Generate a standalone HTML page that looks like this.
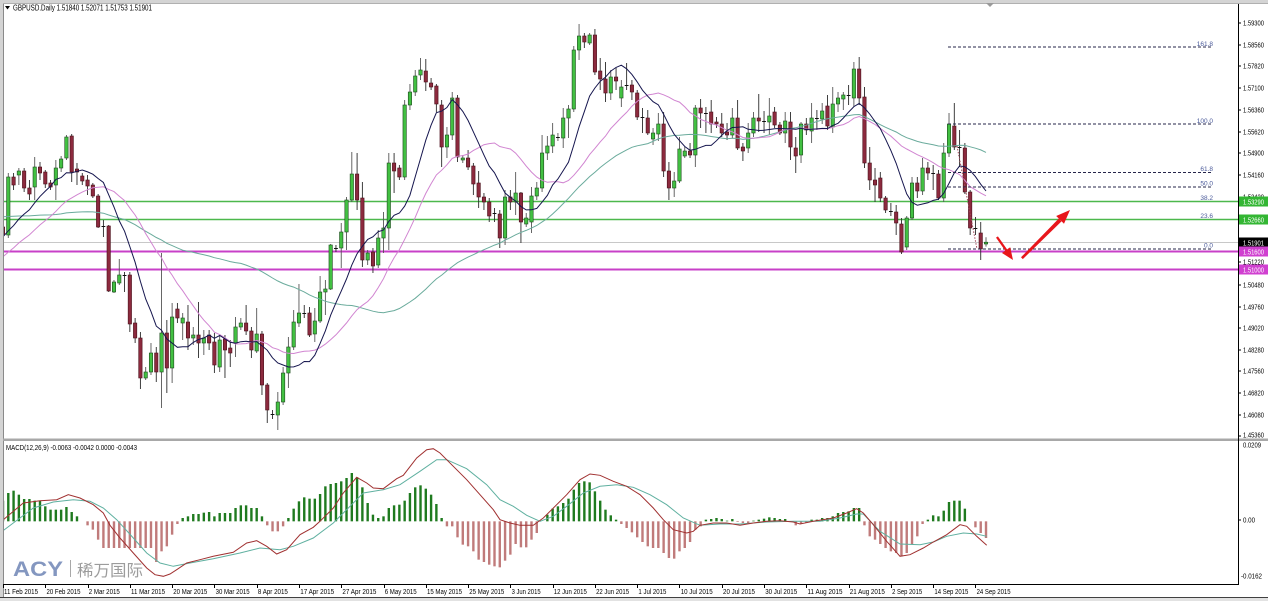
<!DOCTYPE html>
<html><head><meta charset="utf-8">
<style>
html,body{margin:0;padding:0;background:#fff;overflow:hidden;}
svg{display:block;}
text{font-family:"Liberation Sans","Noto Sans CJK SC",sans-serif;}
</style></head>
<body>
<svg id="c" width="1268" height="601" viewBox="0 0 1268 601" xmlns="http://www.w3.org/2000/svg">
<rect width="1268" height="601" fill="#fff"/>
<!-- level lines -->
<line x1="3" y1="201.5" x2="1238" y2="201.5" stroke="#4cb84c" stroke-width="1.5"/>
<line x1="3" y1="219.5" x2="1238" y2="219.5" stroke="#4cb84c" stroke-width="1.5"/>
<line x1="3" y1="242.5" x2="1238" y2="242.5" stroke="#c8c8c8" stroke-width="1"/>
<line x1="3" y1="251.5" x2="1238" y2="251.5" stroke="#c840c8" stroke-width="2"/>
<line x1="3" y1="269.5" x2="1238" y2="269.5" stroke="#c840c8" stroke-width="2"/>
<g id="gC"></g>
<g id="gMA"></g>
<!-- fib -->
<g stroke="#26264a" stroke-width="1" stroke-dasharray="3,2">
<line x1="948" y1="47" x2="1213" y2="47"/>
<line x1="948" y1="124" x2="1213" y2="124"/>
<line x1="948" y1="172.5" x2="1213" y2="172.5"/>
<line x1="948" y1="187" x2="1213" y2="187"/>
<line x1="948" y1="249" x2="1213" y2="249"/>
</g>
<line x1="957" y1="146" x2="977" y2="249" stroke="#a04858" stroke-width="1" stroke-dasharray="1.5,1.5"/>
<g fill="#4a5a9a" font-size="6.5">
<text x="1213" y="46" text-anchor="end">161.8</text>
<text x="1213" y="123" text-anchor="end">100.0</text>
<text x="1213" y="171" text-anchor="end">61.8</text>
<text x="1213" y="185.5" text-anchor="end">50.0</text>
<text x="1213" y="200" text-anchor="end">38.2</text>
<text x="1213" y="218" text-anchor="end">23.6</text>
<text x="1213" y="247.5" text-anchor="end">0.0</text>
</g>
<!-- arrows -->
<g fill="#e8161b" stroke="none">
<polygon points="996,237.6 997.9,236.4 1007.5,250 1005.6,251.3"/>
<polygon points="1013,260 1002,253 1010.2,247.2"/>
<polygon points="1021,257.3 1022.8,259.1 1061.5,221.4 1058.7,218.6"/>
<polygon points="1070,210 1064,223.8 1056.2,216"/>
</g>
<!-- MACD -->
<g id="gH"></g>
<g id="gML"></g>
<!-- watermark -->
<text x="13" y="576" font-size="21" font-weight="bold" fill="#8497c0" textLength="50" lengthAdjust="spacingAndGlyphs">ACY</text>
<line x1="70.5" y1="560" x2="70.5" y2="577" stroke="#a8a8a8" stroke-width="1"/>
<text x="77" y="576" font-size="16" fill="#9c9c9c" font-family="'Liberation Sans','Noto Sans CJK SC',sans-serif" textLength="66" lengthAdjust="spacingAndGlyphs">稀万国际</text>
<!-- frames -->
<rect x="0" y="0" width="1268" height="3" fill="#d4d4d4"/>
<rect x="0" y="0" width="3" height="597" fill="#d4d4d4"/>
<line x1="3.5" y1="3" x2="3.5" y2="597" stroke="#8a8a8a"/>
<line x1="3" y1="3.5" x2="1268" y2="3.5" stroke="#b0b0b0"/>
<polygon points="986,3 994,3 990,7" fill="#9a9a9a"/>
<rect x="3" y="438.5" width="1265" height="2.5" fill="#a8a8a8"/>
<line x1="1238.5" y1="4" x2="1238.5" y2="585" stroke="#000" stroke-width="1"/>
<line x1="3" y1="584.5" x2="1238.5" y2="584.5" stroke="#000" stroke-width="1"/>
<rect x="0" y="597" width="1268" height="4" fill="#e2e2e2"/>
<line x1="0" y1="597.5" x2="1268" y2="597.5" stroke="#404040" stroke-width="1"/>
<!-- header -->
<polygon points="5,6 10,6 7.5,9.5" fill="#000"/>
<text x="13" y="10.5" font-size="8" fill="#000" textLength="139" lengthAdjust="spacingAndGlyphs">GBPUSD.Daily  1.51840 1.52071 1.51753 1.51901</text>
<text x="6" y="450" font-size="7.5" fill="#000" textLength="131" lengthAdjust="spacingAndGlyphs">MACD(12,26,9) -0.0063 -0.0042 0.0000 -0.0043</text>
<!-- price axis -->
<g stroke="#000" stroke-width="1">
<line x1="1238" y1="23" x2="1241" y2="23"/><line x1="1238" y1="45" x2="1241" y2="45"/>
<line x1="1238" y1="66" x2="1241" y2="66"/><line x1="1238" y1="88" x2="1241" y2="88"/>
<line x1="1238" y1="110" x2="1241" y2="110"/><line x1="1238" y1="132" x2="1241" y2="132"/>
<line x1="1238" y1="153" x2="1241" y2="153"/><line x1="1238" y1="175" x2="1241" y2="175"/>
<line x1="1238" y1="197" x2="1241" y2="197"/><line x1="1238" y1="262" x2="1241" y2="262"/>
<line x1="1238" y1="285" x2="1241" y2="285"/><line x1="1238" y1="307" x2="1241" y2="307"/>
<line x1="1238" y1="328" x2="1241" y2="328"/><line x1="1238" y1="350" x2="1241" y2="350"/>
<line x1="1238" y1="371" x2="1241" y2="371"/><line x1="1238" y1="393" x2="1241" y2="393"/>
<line x1="1238" y1="415" x2="1241" y2="415"/><line x1="1238" y1="436" x2="1241" y2="436"/>
<line x1="1238" y1="520" x2="1241" y2="520"/>
</g>
<g font-size="7" fill="#000">
<text x="1243" y="25.5" textLength="21" lengthAdjust="spacingAndGlyphs">1.59300</text>
<text x="1243" y="47.5" textLength="21" lengthAdjust="spacingAndGlyphs">1.58560</text>
<text x="1243" y="68.5" textLength="21" lengthAdjust="spacingAndGlyphs">1.57820</text>
<text x="1243" y="90.5" textLength="21" lengthAdjust="spacingAndGlyphs">1.57100</text>
<text x="1243" y="112.5" textLength="21" lengthAdjust="spacingAndGlyphs">1.56360</text>
<text x="1243" y="134.5" textLength="21" lengthAdjust="spacingAndGlyphs">1.55620</text>
<text x="1243" y="155.5" textLength="21" lengthAdjust="spacingAndGlyphs">1.54900</text>
<text x="1243" y="177.5" textLength="21" lengthAdjust="spacingAndGlyphs">1.54160</text>
<text x="1243" y="199.5" textLength="21" lengthAdjust="spacingAndGlyphs">1.53420</text>
<text x="1243" y="264.5" textLength="21" lengthAdjust="spacingAndGlyphs">1.51220</text>
<text x="1243" y="287.5" textLength="21" lengthAdjust="spacingAndGlyphs">1.50480</text>
<text x="1243" y="309.5" textLength="21" lengthAdjust="spacingAndGlyphs">1.49760</text>
<text x="1243" y="330.5" textLength="21" lengthAdjust="spacingAndGlyphs">1.49020</text>
<text x="1243" y="352.5" textLength="21" lengthAdjust="spacingAndGlyphs">1.48280</text>
<text x="1243" y="373.5" textLength="21" lengthAdjust="spacingAndGlyphs">1.47560</text>
<text x="1243" y="395.5" textLength="21" lengthAdjust="spacingAndGlyphs">1.46820</text>
<text x="1243" y="417.5" textLength="21" lengthAdjust="spacingAndGlyphs">1.46080</text>
<text x="1243" y="437.5" textLength="21" lengthAdjust="spacingAndGlyphs">1.45360</text>
<text x="1243" y="447.5" textLength="18" lengthAdjust="spacingAndGlyphs">0.0209</text>
<text x="1243" y="522.5" textLength="12" lengthAdjust="spacingAndGlyphs">0.00</text>
<text x="1241" y="578.5" textLength="21" lengthAdjust="spacingAndGlyphs">-0.0162</text>
</g>
<!-- price boxes -->
<rect x="1239" y="196.5" width="29" height="10" fill="#33b633"/>
<rect x="1239" y="214.5" width="29" height="10" fill="#33b633"/>
<rect x="1239" y="237.5" width="29" height="10" fill="#000"/>
<rect x="1239" y="246.5" width="29" height="10" fill="#d040d0"/>
<rect x="1239" y="264.5" width="29" height="10" fill="#d040d0"/>
<g font-size="7" fill="#fff">
<text x="1243" y="204.3" textLength="21" lengthAdjust="spacingAndGlyphs">1.53290</text>
<text x="1243" y="222.3" textLength="21" lengthAdjust="spacingAndGlyphs">1.52660</text>
<text x="1243" y="245.3" textLength="21" lengthAdjust="spacingAndGlyphs">1.51901</text>
<text x="1243" y="254.3" textLength="21" lengthAdjust="spacingAndGlyphs">1.51600</text>
<text x="1243" y="272.3" textLength="21" lengthAdjust="spacingAndGlyphs">1.51000</text>
</g>
<!-- date axis -->
<g id="gT" stroke="#000" stroke-width="1"></g>
<g font-size="7" fill="#000">
<text x="4" y="594" textLength="34" lengthAdjust="spacingAndGlyphs">11 Feb 2015</text>
<text x="46.5" y="594" textLength="34" lengthAdjust="spacingAndGlyphs">20 Feb 2015</text>
<text x="88.8" y="594" textLength="31" lengthAdjust="spacingAndGlyphs">2 Mar 2015</text>
<text x="131" y="594" textLength="34" lengthAdjust="spacingAndGlyphs">11 Mar 2015</text>
<text x="173.3" y="594" textLength="34" lengthAdjust="spacingAndGlyphs">20 Mar 2015</text>
<text x="215.6" y="594" textLength="34" lengthAdjust="spacingAndGlyphs">30 Mar 2015</text>
<text x="257.9" y="594" textLength="30" lengthAdjust="spacingAndGlyphs">8 Apr 2015</text>
<text x="300.2" y="594" textLength="34" lengthAdjust="spacingAndGlyphs">17 Apr 2015</text>
<text x="342.4" y="594" textLength="34" lengthAdjust="spacingAndGlyphs">27 Apr 2015</text>
<text x="384.7" y="594" textLength="32" lengthAdjust="spacingAndGlyphs">6 May 2015</text>
<text x="427" y="594" textLength="35" lengthAdjust="spacingAndGlyphs">15 May 2015</text>
<text x="469.3" y="594" textLength="35" lengthAdjust="spacingAndGlyphs">25 May 2015</text>
<text x="511.6" y="594" textLength="29" lengthAdjust="spacingAndGlyphs">3 Jun 2015</text>
<text x="553.8" y="594" textLength="33" lengthAdjust="spacingAndGlyphs">12 Jun 2015</text>
<text x="596.1" y="594" textLength="33" lengthAdjust="spacingAndGlyphs">22 Jun 2015</text>
<text x="638.4" y="594" textLength="28" lengthAdjust="spacingAndGlyphs">1 Jul 2015</text>
<text x="680.7" y="594" textLength="32" lengthAdjust="spacingAndGlyphs">10 Jul 2015</text>
<text x="723" y="594" textLength="32" lengthAdjust="spacingAndGlyphs">20 Jul 2015</text>
<text x="765.2" y="594" textLength="32" lengthAdjust="spacingAndGlyphs">30 Jul 2015</text>
<text x="807.5" y="594" textLength="35" lengthAdjust="spacingAndGlyphs">11 Aug 2015</text>
<text x="849.8" y="594" textLength="35" lengthAdjust="spacingAndGlyphs">21 Aug 2015</text>
<text x="892.1" y="594" textLength="30" lengthAdjust="spacingAndGlyphs">2 Sep 2015</text>
<text x="934.4" y="594" textLength="34" lengthAdjust="spacingAndGlyphs">14 Sep 2015</text>
<text x="976.6" y="594" textLength="34" lengthAdjust="spacingAndGlyphs">24 Sep 2015</text>
</g>
</svg>
<script>
(function(){
var NS='http://www.w3.org/2000/svg';
function el(tag,a,p){var e=document.createElementNS(NS,tag);for(var k in a)e.setAttribute(k,a[k]);p.appendChild(e);return e;}
var D=[
[227,235,223,240],[235,177,173,238],[177,185,173,190],[175,171,168,185],[171,188,168,192],
[188,194,180,200],[187,167,157,200],[167,173,162,180],[172,184,170,188],[183,187,180,190],
[185,168,160,200],[168,159,156,172],[158,137,135,160],[136,172,134,182],[169,172,163,185],
[176,181,173,185],[180,186,175,195],[185,196,183,198],[196,227,194,228],[226,227,220,237],
[226,291,225,292],[292,282,280,293],[283,275,259,285],[275,276,272,292],[275,324,272,332],
[323,338,318,343],[338,378,332,389],[378,372,367,380],[372,353,343,375],[353,372,347,382],
[372,333,253,408],[333,368,320,393],[368,317,303,383],[309,318,303,323],[323,318,313,340],
[322,338,305,350],[338,335,327,345],[335,343,302,358],[343,338,330,355],[335,343,330,350],
[342,365,333,373],[367,340,335,372],[339,350,335,378],[348,353,340,367],[343,327,317,357],
[327,323,318,330],[323,331,305,335],[331,350,327,358],[351,334,308,353],[334,385,331,395],
[385,410,383,423],[414,415,410,419],[415,402,392,430],[402,373,367,405],[373,347,337,388],
[347,322,310,350],[323,313,284,327],[313,314,305,318],[313,335,307,337],[334,321,308,342],
[321,292,276,323],[292,289,280,315],[289,245,244,290],[248,249,245,252],[248,232,223,268],
[232,200,197,250],[200,174,152,202],[174,200,153,210],[198,260,182,267],[260,253,250,265],
[252,266,248,273],[265,238,230,268],[238,228,212,253],[228,163,153,250],[163,171,153,193],
[168,177,165,180],[177,105,100,180],[105,92,84,110],[92,76,70,96],[75,70,58,80],
[71,82,59,91],[83,87,78,90],[86,104,84,112],[105,147,100,167],[147,135,127,158],
[135,98,92,140],[98,157,95,162],[160,158,155,163],[158,167,150,170],[166,184,163,195],
[183,197,171,208],[197,202,193,210],[202,216,198,222],[213,214,208,222],[214,238,210,248],
[238,197,190,245],[197,202,190,210],[202,193,172,215],[193,222,192,243],[224,218,213,227],
[222,196,187,233],[196,188,182,200],[188,153,135,192],[153,146,136,160],[146,135,123,153],
[138,137,133,141],[138,118,108,148],[118,109,105,138],[109,50,46,112],[50,36,24,60],
[36,42,33,48],[43,35,33,45],[35,72,29,75],[71,79,58,90],[79,93,62,102],
[93,77,70,100],[77,81,68,90],[98,87,80,107],[85,86,63,90],[85,92,80,100],
[93,117,90,120],[117,118,108,133],[118,133,110,135],[139,133,128,145],[134,124,113,141],
[124,171,112,177],[171,188,162,200],[188,181,172,197],[181,149,137,183],[156,151,147,158],
[151,155,143,158],[155,108,105,167],[108,113,99,128],[113,114,107,133],[112,124,100,133],
[122,124,117,128],[124,133,113,137],[132,135,123,140],[135,118,108,138],[118,148,100,150],
[147,151,143,161],[148,133,123,153],[133,118,112,137],[118,121,94,132],[121,122,111,133],
[122,116,98,135],[112,125,107,128],[125,133,122,135],[133,121,112,143],[122,147,112,160],
[148,156,137,173],[155,124,122,163],[124,130,118,135],[131,118,103,143],[118,119,110,130],
[119,111,103,124],[106,126,95,130],[127,104,87,133],[104,98,92,112],[99,95,92,110],
[95,96,85,105],[98,69,62,107],[69,98,57,105],[97,163,87,168],[163,180,147,190],
[180,185,168,202],[178,198,172,202],[198,210,196,213],[211,212,203,216],[212,223,205,235],
[224,252,218,254],[247,218,216,250],[218,183,177,220],[183,191,177,198],[191,168,158,195],
[168,173,162,180],[173,174,165,190],[174,198,170,200],[198,153,143,202],[153,124,113,157],
[126,147,103,150],[147,148,130,167],[148,192,143,194],[192,228,190,235],[228,229,217,235],
[233,249,222,260],[244,242.2,237.2,246.6]
];
function X(i){return 3+5.285*i;}
var gC=document.getElementById('gC');
for(var i=0;i<D.length;i++){
  var d=D[i],x=X(i),o=d[0],c=d[1],h=d[2],l=d[3];
  var up=c<o;
  el('line',{x1:x,y1:h,x2:x,y2:l,stroke:up?'#555':'#2a2a2a','stroke-width':0.9},gC);
  var t=Math.min(o,c),b=Math.max(o,c);
  if(b-t<1.3){
    el('line',{x1:x-1.9,y1:(o+c)/2,x2:x+1.9,y2:(o+c)/2,stroke:'#111','stroke-width':1},gC);
  }else{
    el('rect',{x:x-1.7,y:t,width:3.4,height:b-t,fill:up?'#42c042':'#8c2a3e',stroke:up?'#1d4a1d':'#4a0f1a','stroke-width':0.6},gC);
  }
}
// MAs
var pre=[];
for(var j=-54;j<=-1;j++){pre.push(j<=-21?192:(j<=-10?275:237));}
var cl=pre.concat(D.map(function(d){return d[1];}));
var gMA=document.getElementById('gMA');
function ma(p,col){
  var pts=[];
  for(var i=0;i<D.length;i++){
    var k=i+54,s=0;for(var m=k-p+1;m<=k;m++)s+=cl[m];
    pts.push(X(i).toFixed(1)+','+(s/p).toFixed(1));
  }
  el('polyline',{points:pts.join(' '),fill:'none',stroke:col,'stroke-width':1},gMA);
}
ma(55,'#6aab9c');
ma(21,'#d185d1');
ma(10,'#15154e');
// MACD histogram
var H=[188,165,158,170,183,183,188,188,205,215,215,215,207,222,235,250,262,275,305,330,
330,330,330,330,330,330,330,330,330,372,340,325,290,258,240,235,228,228,224,222,
235,225,225,225,210,202,202,210,210,235,262,280,280,265,240,212,190,178,182,182,
168,145,138,135,130,120,105,118,148,195,230,240,235,210,202,200,188,165,148,142,
152,170,198,240,265,265,298,320,325,340,365,372,380,385,388,368,350,318,328,328,
305,285,250,230,212,205,195,182,155,135,130,133,160,188,215,232,245,258,270,283,
298,312,325,330,330,345,360,362,340,330,312,275,265,245,243,240,243,248,243,252,
255,258,248,245,242,238,240,243,243,252,262,258,255,245,245,240,240,235,225,222,
220,210,210,262,295,305,318,330,340,345,355,345,318,295,258,245,232,235,218,192,
188,188,212,250,268,285,300];
var gH=document.getElementById('gH');
var Z=438+250/3;
for(var i=0;i<H.length;i++){
  var y=438+H[i]/3,x=X(i);
  if(Math.abs(y-Z)<0.6)continue;
  var pos=y<Z;
  el('rect',{x:x-1.2,y:Math.min(y,Z),width:2.4,height:Math.abs(y-Z),fill:pos?'#1f7a1f':'#c07b7b'},gH);
}
var gML=document.getElementById('gML');
function pl(a11,a12,col){
  var pts=[];
  a11.forEach(function(p){pts.push((p[0]/3).toFixed(1)+','+(438+p[1]/3).toFixed(1));});
  a12.forEach(function(p){pts.push((500+p[0]/3).toFixed(1)+','+(438+p[1]/3).toFixed(1));});
  el('polyline',{points:pts.join(' '),fill:'none',stroke:col,'stroke-width':1},gML);
}
pl([[0,285],[40,255],[100,210],[160,192],[220,185],[270,190],[310,210],[350,245],[400,300],[440,345],[480,375],[520,385],[570,375],[640,362],[720,345],[780,330],[840,335],[880,325],[940,300],[1000,255],[1050,205],[1090,165],[1150,155],[1200,140],[1260,100],[1310,65],[1340,65],[1400,92],[1460,140],[1500,185]],
 [[40,205],[80,232],[120,250],[160,235],[200,205],[250,165],[300,145],[350,140],[400,148],[450,170],[500,200],[550,240],[600,262],[660,258],[720,258],[800,252],[880,250],[960,250],[1020,240],[1070,228],[1090,228],[1140,280],[1200,318],[1260,320],[1300,312],[1340,295],[1390,285],[1430,288],[1460,295]],'#5fb0a0');
pl([[10,245],[70,195],[120,188],[170,185],[205,170],[240,180],[280,200],[310,225],[330,262],[360,300],[400,345],[440,390],[465,410],[490,415],[510,408],[530,395],[560,375],[600,365],[640,355],[700,343],[740,315],[770,308],[800,325],[830,348],[860,335],[900,290],[940,268],[960,250],[1000,210],[1030,165],[1070,118],[1100,135],[1120,150],[1150,152],[1190,122],[1210,112],[1250,60],[1280,35],[1300,32],[1320,45],[1360,85],[1400,125],[1440,170],[1480,215],[1500,245],[1530,255],[1560,262]],
 [[100,262],[130,240],[200,170],[240,125],[270,108],[300,112],[340,130],[380,145],[420,170],[460,210],[490,245],[520,275],[560,285],[580,280],[600,262],[640,255],[680,255],[720,262],[760,255],[800,250],[840,248],[880,252],[900,258],[940,250],[1000,240],[1040,225],[1070,212],[1090,225],[1120,260],[1160,310],[1200,355],[1230,350],[1270,330],[1300,312],[1340,290],[1380,260],[1400,265],[1430,295],[1460,322]],'#a03030');
// date ticks
var gT=document.getElementById('gT');
for(var k=0;k<24;k++){var x=Math.round(3+42.28*k)+0.5;el('line',{x1:x,y1:584,x2:x,y2:588},gT);}
})();
</script>
</body></html>
